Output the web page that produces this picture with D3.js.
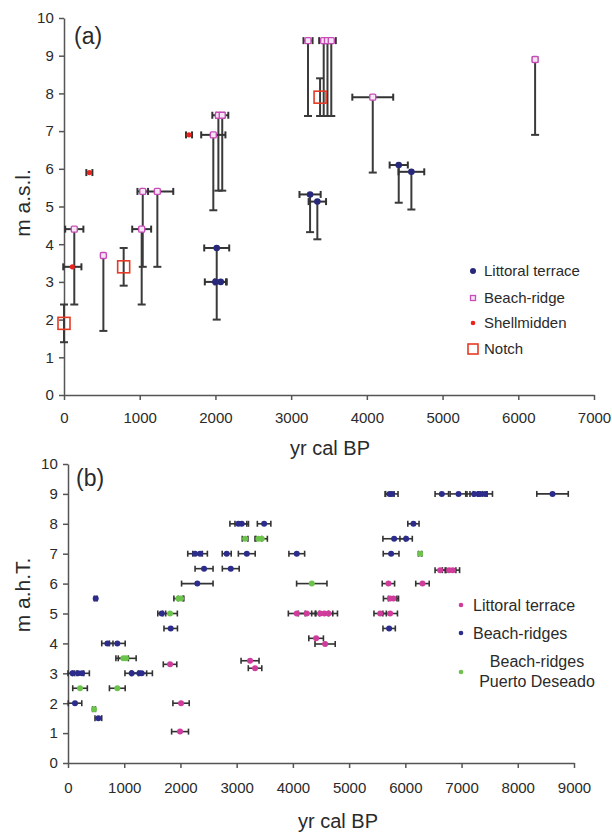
<!DOCTYPE html>
<html><head><meta charset="utf-8">
<script src="https://cdn.jsdelivr.net/npm/d3@7"></script>
<style>body{margin:0;background:#fff}svg{display:block}text{font-family:Arial,"Liberation Sans",sans-serif;fill:#2a2a2a}</style>
</head><body><svg id="c" width="612" height="836"></svg>
<script>
// ---------- Panel (a) data ----------
const aXTicks = [0,1000,2000,3000,4000,5000,6000,7000];
const aYTicks = [0,1,2,3,4,5,6,7,8,9,10];
// Littoral terrace
const aLitX    = [2017, 2000, 2070, 3250, 3346, 4421, 4588];
const aLitY    = [3.9, 3.0, 3.0, 5.32, 5.13, 6.1, 5.92];
const aLitXerr = [165, 140, 80, 140, 115, 120, 170];
const aLitYdn  = [1.9, 0, 0, 1.0, 1.0, 1.0, 1.0];
// Beach-ridge
const aBrX    = [136, 520, 1026, 1040, 1233, 1972, 2039, 2090, 3223, 3430, 3480, 3530, 4078, 6222];
const aBrY    = [4.4, 3.7, 4.4, 5.4, 5.4, 6.9, 7.42, 7.42, 9.4, 9.4, 9.4, 9.4, 7.9, 8.9];
const aBrXerr = [120, 20, 125, 70, 210, 160, 80, 80, 60, 60, 60, 60, 270, 30];
const aBrYdn  = [2, 2, 2, 2, 2, 2, 2, 2, 2, 2, 2, 2, 2, 2];
// Shell midden
const aShX    = [110, 335, 1651];
const aShY    = [3.4, 5.9, 6.9];
const aShXerr = [120, 40, 40];
// Notch
const aNoX    = [0, 788, 3382];
const aNoY    = [1.9, 3.4, 7.9];
const aNoYerr = [0.5, 0.5, 0.5];

// ---------- Panel (b) data ----------
const bXTicks = [0,1000,2000,3000,4000,5000,6000,7000,8000,9000];
const bYTicks = [0,1,2,3,4,5,6,7,8,9,10];
// Littoral terrace
const bLitX    = [1993, 2011, 1815, 3238, 3327, 4413, 4573, 4069, 4247, 4484, 4560, 4633, 5552, 5730, 5730, 5789, 5699, 6305, 6619, 6779, 6845];
const bLitY    = [1.05, 2.0, 3.3, 3.42, 3.17, 4.17, 3.98, 5.0, 5.0, 5.0, 5.0, 5.0, 5.0, 5.0, 5.5, 5.5, 6.0, 6.0, 6.45, 6.45, 6.45];
const bLitXerr = [150, 145, 120, 160, 120, 130, 180, 150, 150, 150, 150, 160, 110, 130, 120, 90, 110, 120, 90, 120, 120];
// Beach-ridges
const bBrX    = [80, 180, 250, 125, 540, 493, 700, 877, 1133, 1269, 1311, 1667, 1827, 2260, 2349, 2300, 2420, 2823, 2895, 3030, 3090, 3180, 3488, 4069, 5720, 5760, 6649, 6946, 7224, 7300, 7331, 7420, 8618, 6144, 5801, 6014, 5747, 5712];
const bBrY    = [3.0, 3.0, 3.0, 2.0, 1.5, 5.5, 4.0, 4.0, 3.0, 3.0, 3.0, 5.0, 4.5, 7.0, 7.0, 6.0, 6.5, 7.0, 6.5, 8.0, 8.0, 7.0, 8.0, 7.0, 9.0, 9.0, 9.0, 9.0, 9.0, 9.0, 9.0, 9.0, 9.0, 8.0, 7.5, 7.5, 7.0, 4.5];
const bBrXerr = [80, 100, 130, 120, 60, 25, 100, 140, 120, 130, 190, 70, 120, 130, 130, 280, 160, 80, 150, 150, 120, 150, 120, 140, 80, 110, 120, 150, 150, 150, 120, 130, 280, 100, 200, 110, 140, 110];
// Beach-ridges Puerto Deseado
const bPdX    = [214, 463, 984, 1032, 877, 1815, 1963, 2010, 3150, 3386, 3446, 4336, 6263];
const bPdY    = [2.5, 1.8, 3.5, 3.5, 2.5, 5.0, 5.5, 5.5, 7.5, 7.5, 7.5, 6.0, 7.0];
const bPdXerr = [130, 25, 90, 180, 140, 130, 80, 50, 50, 60, 100, 270, 30];

const svg = d3.select("#c");
const barCol = "#333";

function axes(g, x, y, xt, yt, xdy) {
  const ax = g.append("g").attr("transform", `translate(0,${y(0)})`)
    .call(d3.axisBottom(x).tickValues(xt).tickSize(5).tickSizeOuter(0).tickFormat(d3.format("d")));
  const ay = g.append("g").attr("transform", `translate(${x(0)},0)`)
    .call(d3.axisLeft(y).tickValues(yt).tickSize(5).tickSizeOuter(0).tickFormat(d3.format("d")));
  [ax, ay].forEach(a => {
    a.selectAll("path,line").attr("stroke", "#555").attr("stroke-width", 1.5);
    a.selectAll("text").attr("font-size", 15).attr("fill", "#2a2a2a");
  });
  ax.selectAll("text").attr("dy", xdy + "px");
  ay.selectAll("text").attr("dx", "-0.15em");
}

function hbars(g, x, y, xs, ys, es, cap, w) {
  xs.forEach((d, i) => {
    if (!es[i]) return;
    const x0 = x(d - es[i]), x1 = x(d + es[i]), yy = y(ys[i]);
    g.append("line").attr("x1", x0).attr("x2", x1).attr("y1", yy).attr("y2", yy).attr("stroke", barCol).attr("stroke-width", w);
    [x0, x1].forEach(xx => g.append("line").attr("x1", xx).attr("x2", xx).attr("y1", yy - cap).attr("y2", yy + cap).attr("stroke", barCol).attr("stroke-width", w));
  });
}
function vbars(g, x, y, xs, ys, up, dn, cap, w) {
  xs.forEach((d, i) => {
    if (!dn[i] && !up[i]) return;
    const xx = x(d), y0 = y(ys[i] + up[i]), y1 = y(ys[i] - dn[i]);
    g.append("line").attr("x1", xx).attr("x2", xx).attr("y1", y0).attr("y2", y1).attr("stroke", "#3a3a3a").attr("stroke-width", w);
    const ends = up[i] ? [y0, y1] : [y1];
    ends.forEach(yy => g.append("line").attr("x1", xx - cap).attr("x2", xx + cap).attr("y1", yy).attr("y2", yy).attr("stroke", "#3a3a3a").attr("stroke-width", w));
  });
}

// ---------- Panel (a) ----------
{
  const x = d3.scaleLinear().domain([0, 7000]).range([64, 594]);
  const y = d3.scaleLinear().domain([0, 10]).range([395, 18]);
  const g = svg.append("g");
  axes(g, x, y, aXTicks, aYTicks, 20);
  const zeros = n => new Array(n).fill(0);
  vbars(g, x, y, aLitX, aLitY, zeros(aLitX.length), aLitYdn, 4, 2);
  vbars(g, x, y, aBrX, aBrY, zeros(aBrX.length), aBrYdn, 4, 2);
  vbars(g, x, y, aNoX, aNoY, aNoYerr, aNoYerr, 4, 2);
  hbars(g, x, y, aLitX, aLitY, aLitXerr, 3.5, 2);
  hbars(g, x, y, aBrX, aBrY, aBrXerr, 3.5, 2);
  hbars(g, x, y, aShX, aShY, aShXerr, 3.5, 2);
  aLitX.forEach((d, i) => g.append("circle").attr("cx", x(d)).attr("cy", y(aLitY[i])).attr("r", 3.3).attr("fill", "#28287a"));
  aBrX.forEach((d, i) => g.append("rect").attr("x", x(d) - 3).attr("y", y(aBrY[i]) - 3).attr("width", 6).attr("height", 6).attr("rx", 1.2).attr("fill", "#f4e6f4").attr("stroke", "#c84cb8").attr("stroke-width", 1.4));
  aShX.forEach((d, i) => g.append("circle").attr("cx", x(d)).attr("cy", y(aShY[i])).attr("r", 2.6).attr("fill", "#e8241c"));
  aNoX.forEach((d, i) => g.append("rect").attr("x", x(d) - 6).attr("y", y(aNoY[i]) - 6).attr("width", 12).attr("height", 12).attr("fill", "none").attr("stroke", "#e53a25").attr("stroke-width", 1.6));
  g.append("text").attr("x", 74).attr("y", 44).attr("font-size", 23).text("(a)");
  g.append("text").attr("transform", "translate(30,203) rotate(-90)").attr("text-anchor", "middle").attr("font-size", 21).text("m a.s.l.");
  g.append("text").attr("x", 330).attr("y", 455).attr("text-anchor", "middle").attr("font-size", 20).text("yr cal BP");
  // legend
  const lx = 473, lt = 484, rows = [271, 298, 323, 349];
  g.append("circle").attr("cx", lx).attr("cy", rows[0]).attr("r", 3).attr("fill", "#28287a");
  g.append("rect").attr("x", lx - 2.5).attr("y", rows[1] - 2.5).attr("width", 5).attr("height", 5).attr("fill", "#f4e6f4").attr("stroke", "#c84cb8").attr("stroke-width", 1.3);
  g.append("circle").attr("cx", lx).attr("cy", rows[2]).attr("r", 2.3).attr("fill", "#e8241c");
  g.append("rect").attr("x", lx - 5).attr("y", rows[3] - 5).attr("width", 10).attr("height", 10).attr("fill", "none").attr("stroke", "#e53a25").attr("stroke-width", 1.6);
  ["Littoral terrace", "Beach-ridge", "Shellmidden", "Notch"].forEach((t, i) =>
    g.append("text").attr("x", lt).attr("y", rows[i]).attr("dy", "0.35em").attr("font-size", 15).text(t));
}

// ---------- Panel (b) ----------
{
  const x = d3.scaleLinear().domain([0, 9000]).range([68, 574]);
  const y = d3.scaleLinear().domain([0, 10]).range([763, 464]);
  const g = svg.append("g");
  axes(g, x, y, bXTicks, bYTicks, 22);
  hbars(g, x, y, bLitX, bLitY, bLitXerr, 3, 1.6);
  hbars(g, x, y, bBrX, bBrY, bBrXerr, 3, 1.6);
  hbars(g, x, y, bPdX, bPdY, bPdXerr, 3, 1.6);
  const cLit = "#d03c9c", cBr = "#2c2c8c", cPd = "#6cc44c";
  bLitX.forEach((d, i) => g.append("circle").attr("cx", x(d)).attr("cy", y(bLitY[i])).attr("r", 3).attr("fill", cLit));
  bBrX.forEach((d, i) => g.append("circle").attr("cx", x(d)).attr("cy", y(bBrY[i])).attr("r", 3).attr("fill", cBr));
  bPdX.forEach((d, i) => g.append("circle").attr("cx", x(d)).attr("cy", y(bPdY[i])).attr("r", 3).attr("fill", cPd));
  g.append("text").attr("x", 76).attr("y", 486).attr("font-size", 23).text("(b)");
  g.append("text").attr("transform", "translate(30,595) rotate(-90)").attr("text-anchor", "middle").attr("font-size", 21).text("m a.h.T.");
  g.append("text").attr("x", 338).attr("y", 828).attr("text-anchor", "middle").attr("font-size", 20).text("yr cal BP");
  const lx = 461, lt = 473;
  g.append("circle").attr("cx", lx).attr("cy", 605).attr("r", 2.3).attr("fill", cLit);
  g.append("circle").attr("cx", lx).attr("cy", 633).attr("r", 2.3).attr("fill", cBr);
  g.append("circle").attr("cx", lx).attr("cy", 672).attr("r", 2.3).attr("fill", cPd);
  g.append("text").attr("x", lt).attr("y", 605).attr("dy", "0.35em").attr("font-size", 16).text("Littoral terrace");
  g.append("text").attr("x", lt).attr("y", 633).attr("dy", "0.35em").attr("font-size", 16).text("Beach-ridges");
  g.append("text").attr("x", 537).attr("y", 661).attr("dy", "0.35em").attr("text-anchor", "middle").attr("font-size", 16).text("Beach-ridges");
  g.append("text").attr("x", 537).attr("y", 681).attr("dy", "0.35em").attr("text-anchor", "middle").attr("font-size", 16).text("Puerto Deseado");
}
</script></body></html>
